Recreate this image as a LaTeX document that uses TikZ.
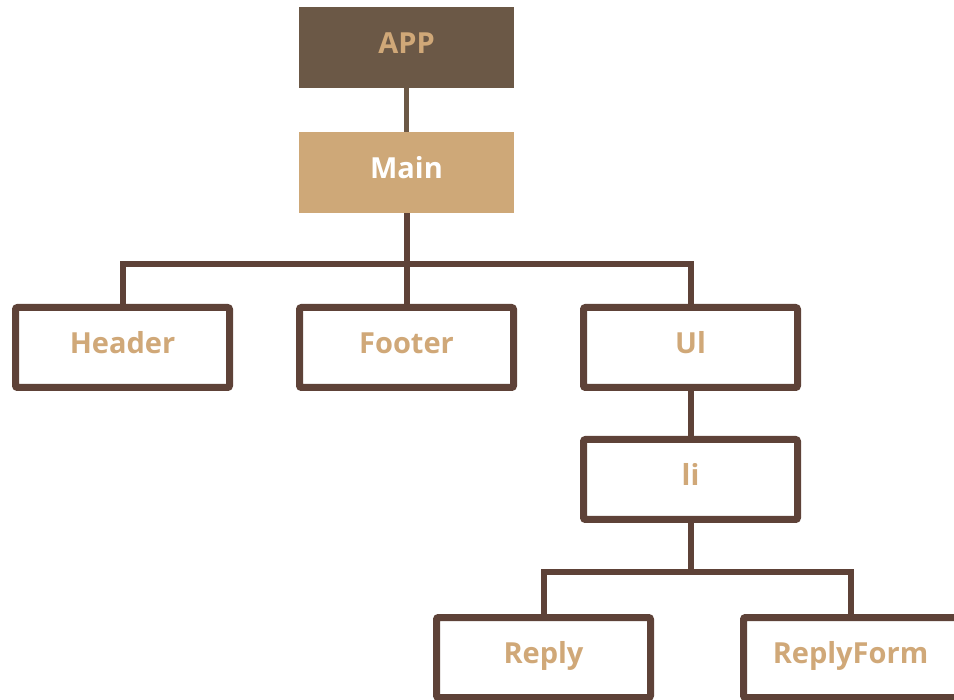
\documentclass[tikz,border=0pt]{standalone}
\usepackage{fontspec}
\setmainfont{Open Sans}
\definecolor{appfill}{HTML}{6B5846}
\definecolor{mainfill}{HTML}{CEA878}
\definecolor{txt}{HTML}{D0A878}
\definecolor{edge}{HTML}{5E4238}
\begin{document}
\begin{tikzpicture}[x=1pt,y=-1pt,
  labeltext/.style={font=\bfseries\fontsize{29}{31}\selectfont,text height=21pt,text depth=9pt},
  solid/.style={labeltext,minimum width=215pt,minimum height=81pt,inner sep=0pt},
  outline/.style={labeltext,draw=edge,line width=7pt,rounded corners=2pt,fill=white,minimum width=214pt,minimum height=80pt,inner sep=0pt,text=txt},
  conn/.style={draw=edge,line width=6pt}]
\useasboundingbox (0,0) rectangle (954,700);
\node[solid,fill=appfill,text=txt] (app) at (406.5,47.5) {APP};
\node[solid,fill=mainfill,text=white] (main) at (406.5,172.5) {Main};
\draw[draw=appfill,line width=5pt] (app) -- (main);
\coordinate (bus) at (406.5,264);
\node[outline] (header) at (122.5,347.5) {Header};
\node[outline] (footer) at (406.5,347.5) {Footer};
\node[outline] (ul) at (690.5,347.5) {Ul};
\node[outline] (li) at (690.5,479.5) {li};
\node[outline] (reply) at (543.5,657.5) {Reply};
\node[outline] (replyform) at (850.5,657.5) {ReplyForm};
\coordinate (bus2) at (690.5,572);
\draw[conn] (main.south) -- (footer.north);
\draw[conn] (header.north) |- (bus) -| (ul.north);
\draw[conn] (ul) -- (li);
\draw[conn] (li.south) -- (bus2);
\draw[conn] (reply.north) |- (bus2) -| (replyform.north);
\end{tikzpicture}
\end{document}
